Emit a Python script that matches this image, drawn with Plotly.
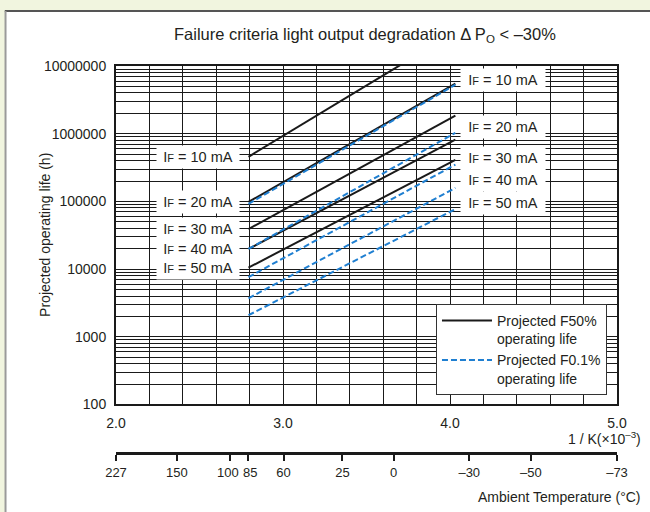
import numpy as np
import plotly.graph_objects as go

# currents for each pair of lines
currents = ["10 mA", "20 mA", "30 mA", "40 mA", "50 mA"]

# ambient temperature span of the projections (degC)
line_temps = [85, -25]

# projected life (h) at start (85 C) and end (-25 C)
f50_start = [456000, 98000, 39000, 19800, 10500]
f50_end = [32000000, 5500000, 1850000, 815000, 410000]
f01_start = [92000, 19800, 7600, 3700, 2080]
f01_end = [5300000, 1030000, 350000, 158000, 77000]

# where the right hand labels sit (h)
right_label_y = [6300000, 1270000, 440000, 208000, 95000]

# secondary temperature axis
temp_ticks = [227, 150, 100, 85, 60, 25, 0, -30, -50, -73]

FONT = "Liberation Sans, Arial, Helvetica, sans-serif"
TXT = "#231f20"
BLUE = "#1f7fd1"
GREEN = "#f1f5df"

def inv_k(t):
    # 1000 / K, chart uses 273 for 0 C
    return 1000.0 / (t + 273.0)

def temp_label(t):
    s = str(t).replace("-", "\u2013")
    # nudge the crowded 100 / 85 pair apart a little
    if t == 100:
        s = s + "\u00a0"
    elif t == 85:
        s = "\u00a0" + s
    return s

xs = [inv_k(t) for t in line_temps]

fig = go.Figure()

for i, cur in enumerate(currents):
    fig.add_trace(go.Scatter(
        x=xs, y=[f50_start[i], f50_end[i]], mode="lines",
        line=dict(color="#1a1a1a", width=2),
        name="Projected F50%<br>operating life",
        legendgroup="f50", showlegend=(i == 0), hoverinfo="skip"))
for i, cur in enumerate(currents):
    fig.add_trace(go.Scatter(
        x=xs, y=[f01_start[i], f01_end[i]], mode="lines",
        line=dict(color=BLUE, width=2, dash="6px,3px"),
        name="Projected F0.1%<br>operating life",
        legendgroup="f01", showlegend=(i == 0), hoverinfo="skip"))

# dummy trace so the temperature axis is drawn
fig.add_trace(go.Scatter(x=[2, 5], y=[None, None], xaxis="x2", yaxis="y",
                         showlegend=False, hoverinfo="skip"))

# tick/grid positions
xgrid = [round(v, 1) for v in np.arange(2.0, 5.01, 0.2)]
xtext = ["%.1f" % v if abs(v - round(v)) < 1e-9 else "" for v in xgrid]
ygrid, ytext = [], []
for e in range(2, 7):
    for m in range(1, 10):
        ygrid.append(m * 10 ** e)
        ytext.append(str(10 ** e) if m == 1 else "")
ygrid.append(10 ** 7)
ytext.append(str(10 ** 7))

fig.update_layout(
    width=650, height=512,
    margin=dict(l=116, r=33, t=66, b=52),
    paper_bgcolor=GREEN, plot_bgcolor="white",
    font=dict(family=FONT, size=14, color=TXT),
    xaxis=dict(range=[2, 5], tickvals=xgrid, ticktext=xtext, showgrid=True,
               gridcolor="#1a1a1a", gridwidth=1, showline=True, linecolor="#1a1a1a",
               linewidth=2, mirror=True, ticks="outside", ticklen=5,
               tickcolor="rgba(0,0,0,0)", zeroline=False, tickangle=0),
    xaxis2=dict(range=[2, 5], overlaying="x", anchor="free", position=0.0178,
                side="bottom", tickvals=[inv_k(t) for t in temp_ticks],
                ticktext=[temp_label(t) for t in temp_ticks],
                showgrid=False, showline=True, linecolor="#1a1a1a", linewidth=3,
                ticks="outside", ticklen=6, tickwidth=2, tickcolor="#1a1a1a",
                zeroline=False, tickangle=0, tickfont=dict(size=13)),
    yaxis=dict(type="log", range=[2, 7], domain=[0.141, 1], tickvals=ygrid,
               ticktext=ytext, showgrid=True, gridcolor="#1a1a1a", gridwidth=1,
               showline=True, linecolor="#1a1a1a", linewidth=2, mirror=True,
               ticks="outside", ticklen=5, tickcolor="rgba(0,0,0,0)", zeroline=False),
    legend=dict(x=0.98, y=0.165, xanchor="right", yanchor="bottom",
                bgcolor="white", bordercolor="#333333", borderwidth=1,
                font=dict(size=14), itemwidth=50, tracegroupgap=0, valign="top"),
    showlegend=True,
)

# page panel (white sheet on light green)
fig.add_shape(type="rect", xref="paper", yref="paper", x0=-0.22, x1=1.2,
              y0=-0.2, y1=1.1396, fillcolor="white", line_width=0, layer="below")
fig.add_shape(type="line", xref="paper", yref="paper", x0=-0.222, x1=1.2,
              y0=1.1396, y1=1.1396, line=dict(color="#555555", width=2), layer="below")
fig.add_shape(type="line", xref="paper", yref="paper", x0=-0.2205, x1=-0.2205,
              y0=-0.2, y1=1.1396, line=dict(color="#9a9a9a", width=2), layer="below")

IF = "I<span style='font-size:11px'>F</span> = "

for i, cur in enumerate(currents):
    fig.add_annotation(x=2.49, y=np.log10(f50_start[i]), xref="x", yref="y",
                       text=IF + cur, showarrow=False, bgcolor="white",
                       width=80, height=20, font=dict(size=14.5))
    fig.add_annotation(x=4.32, y=np.log10(right_label_y[i]), xref="x", yref="y",
                       text=IF + cur, showarrow=False, bgcolor="white",
                       width=82, height=20, font=dict(size=14.5))

fig.add_annotation(x=0.497, y=1.0787, xref="paper", yref="paper",
                   xanchor="center", yanchor="middle",
                   text="Failure criteria light output degradation \u0394 P<sub>O</sub> < \u201330%",
                   showarrow=False, font=dict(size=16.5))
fig.add_annotation(x=-0.142, y=0.571, xref="paper", yref="paper",
                   xanchor="center", yanchor="middle",
                   text="Projected operating life (h)", textangle=-90,
                   showarrow=False, font=dict(size=14))
fig.add_annotation(x=1.052, y=0.055, xref="paper", yref="paper",
                   xanchor="right", yanchor="middle",
                   text="1 / K(\u00d710<sup>\u20133</sup>)", showarrow=False,
                   font=dict(size=14))
fig.add_annotation(x=1.052, y=-0.094, xref="paper", yref="paper",
                   xanchor="right", yanchor="middle",
                   text="Ambient Temperature (\u00b0C)", showarrow=False,
                   font=dict(size=14))

fig.write_html("out.html", config={"displayModeBar": False}, post_script=(
    "document.body.style.margin='0';"
    "document.body.style.background='" + GREEN + "';"
    "document.body.style.overflow='hidden';"))
